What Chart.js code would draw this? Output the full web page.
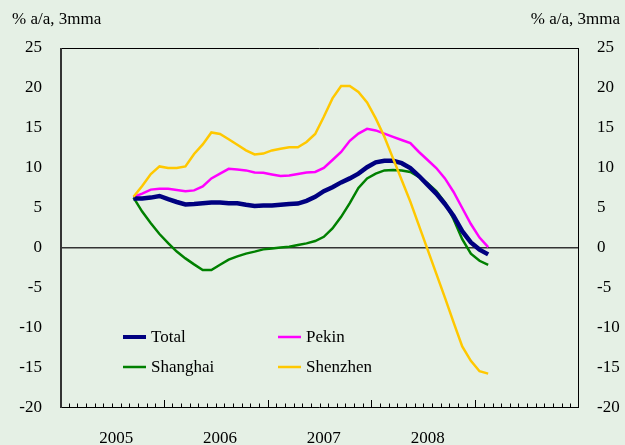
<!DOCTYPE html>
<html lang="en">
<head>
<meta charset="UTF-8" />
<title>House prices</title>
<style>
  html, body { margin: 0; padding: 0; background: #e5f0e5; }
  #wrap { position: relative; width: 625px; height: 445px; }
</style>
</head>
<body>
<div id="wrap"><canvas id="chart" width="625" height="445"></canvas></div>

<script src="https://cdn.jsdelivr.net/npm/chart.js"></script>
<script>
// monthly axis Jan 2005 - Dec 2009, series start Sep 2005
const years = ['2005', '2006', '2007', '2008', '2009'];
const yearLabels = ['2005', '2006', '2007', '2008'];
const firstMonth = 8;
const unitLabel = '% a/a, 3mma';

const total = [6.2, 6.2, 6.3, 6.5, 6.1, 5.75, 5.45, 5.5, 5.6, 5.7, 5.7, 5.6,
  5.6, 5.4, 5.25, 5.3, 5.3, 5.4, 5.5, 5.55, 5.9, 6.4, 7.1, 7.6,
  8.2, 8.7, 9.3, 10.1, 10.7, 10.9, 10.9, 10.6, 10.0, 9.0, 7.9, 6.8,
  5.5, 4.0, 2.1, 0.7, -0.2, -0.8];
const pekin = [6.4, 6.8, 7.3, 7.4, 7.4, 7.25, 7.1, 7.2, 7.7, 8.7, 9.3, 9.9,
  9.8, 9.7, 9.45, 9.4, 9.2, 9.0, 9.05, 9.25, 9.45, 9.5, 10.0, 11.0,
  12.0, 13.4, 14.3, 14.9, 14.7, 14.3, 13.9, 13.5, 13.1, 12.0, 11.0, 10.0,
  8.7, 7.0, 5.0, 3.0, 1.3, 0.1];
const shanghai = [6.3, 4.55, 3.1, 1.75, 0.6, -0.45, -1.3, -2.05, -2.75, -2.75, -2.1, -1.45,
  -1.05, -0.7, -0.45, -0.17, -0.05, 0.05, 0.17, 0.37, 0.58, 0.87, 1.4, 2.45,
  3.9, 5.6, 7.5, 8.7, 9.3, 9.7, 9.75, 9.7, 9.5, 8.9, 8.1, 7.1,
  5.7, 3.6, 1.1, -0.7, -1.6, -2.1];
const shenzhen = [6.4, 7.75, 9.25, 10.2, 10.0, 10.0, 10.2, 11.75, 12.95, 14.45, 14.25, 13.6,
  12.9, 12.2, 11.7, 11.8, 12.2, 12.4, 12.6, 12.6, 13.25, 14.25, 16.4, 18.7,
  20.25, 20.25, 19.5, 18.2, 16.2, 13.9, 11.2, 8.5, 5.8, 2.8, -0.2, -3.2,
  -6.2, -9.3, -12.3, -14.1, -15.4, -15.7];

const months = [];
years.forEach(y => {
  for (let m = 1; m <= 12; m++) months.push(y + '-' + String(m).padStart(2, '0'));
});

function place(arr) {
  const out = months.map(() => null);
  arr.forEach((v, i) => { out[firstMonth + i] = v; });
  return out;
}

Chart.defaults.font.family = '"Liberation Serif", "Times New Roman", serif';
Chart.defaults.font.size = 17;
Chart.defaults.color = '#000';

// frame, bottom ticks, unit labels and legend
const decor = {
  id: 'decor',
  afterDatasetsDraw(chart) {
    const { ctx, chartArea: a } = chart;
    ctx.save();
    ctx.strokeStyle = '#000';
    ctx.lineWidth = 1;
    ctx.beginPath();
    ctx.moveTo(a.left, a.top + 0.5); ctx.lineTo(a.right, a.top + 0.5);
    ctx.moveTo(a.right - 0.5, a.top); ctx.lineTo(a.right - 0.5, a.bottom);
    ctx.moveTo(a.left, a.bottom - 0.5); ctx.lineTo(a.right, a.bottom - 0.5);
    const n = months.length;
    for (let i = 1; i < n; i++) {
      const x = Math.round(a.left + i * (a.right - a.left) / n) + 0.5;
      const len = i % 12 === 0 ? 8 : 4.5;
      ctx.moveTo(x, a.bottom); ctx.lineTo(x, a.bottom - len);
    }
    ctx.stroke();
    ctx.strokeStyle = '#333';
    ctx.lineWidth = 2;
    ctx.beginPath();
    ctx.moveTo(a.left + 1, a.top); ctx.lineTo(a.left + 1, a.bottom);
    ctx.stroke();

    ctx.fillStyle = '#000';
    ctx.font = '17px "Liberation Serif", serif';
    ctx.textBaseline = 'middle';
    ctx.textAlign = 'left';
    ctx.fillText(unitLabel, 12, 20);
    ctx.textAlign = 'right';
    ctx.fillText(unitLabel, 620, 20);

    // legend, 2 x 2
    const slots = [[123, 337], [278, 337], [123, 367], [278, 367]];
    chart.data.datasets.forEach((ds, i) => {
      const [x, y] = slots[i];
      ctx.strokeStyle = ds.borderColor;
      ctx.lineWidth = ds.borderWidth > 3 ? 4 : 2.5;
      ctx.beginPath();
      ctx.moveTo(x, y); ctx.lineTo(x + 23, y);
      ctx.stroke();
      ctx.textAlign = 'left';
      ctx.fillText(ds.label, x + 28, y + 1);
    });
    ctx.restore();
  }
};

new Chart(document.getElementById('chart'), {
  type: 'line',
  data: {
    labels: months,
    datasets: [
      { label: 'Total', data: place(total), borderColor: '#000080', borderWidth: 4.5, order: 1 },
      { label: 'Pekin', data: place(pekin), borderColor: '#ff00ff', borderWidth: 2.5, order: 2 },
      { label: 'Shanghai', data: place(shanghai), borderColor: '#008000', borderWidth: 2.5, order: 3 },
      { label: 'Shenzhen', data: place(shenzhen), borderColor: '#ffc800', borderWidth: 2.5, order: 0 }
    ]
  },
  options: {
    responsive: false,
    animation: false,
    devicePixelRatio: 1,
    layout: { padding: { top: 48, left: 0, right: 0, bottom: 0 } },
    elements: {
      point: { radius: 0 },
      line: { tension: 0, borderCapStyle: 'butt' }
    },
    plugins: { legend: { display: false }, tooltip: { enabled: false } },
    scales: {
      x: {
        offset: true,
        grid: { display: false, drawTicks: false },
        border: { display: false },
        afterFit: s => { s.height = 37; },
        ticks: {
          autoSkip: false,
          maxRotation: 0,
          padding: 20,
          callback: (v, i) => (i % 12 === 6 && yearLabels[(i - 6) / 12]) || ''
        }
      },
      y: {
        position: 'left',
        min: -20, max: 25,
        afterFit: s => { s.width = 60; },
        grid: {
          drawTicks: false,
          color: c => c.tick.value === 0 ? '#333' : 'rgba(0,0,0,0)',
          lineWidth: 1.5
        },
        border: { display: false },
        ticks: { stepSize: 5, padding: 18 }
      },
      y2: {
        position: 'right',
        min: -20, max: 25,
        afterFit: s => { s.width = 46; },
        grid: { display: false, drawTicks: false },
        border: { display: false },
        ticks: { stepSize: 5, padding: 18 }
      }
    }
  },
  plugins: [decor]
});
</script>
</body>
</html>
